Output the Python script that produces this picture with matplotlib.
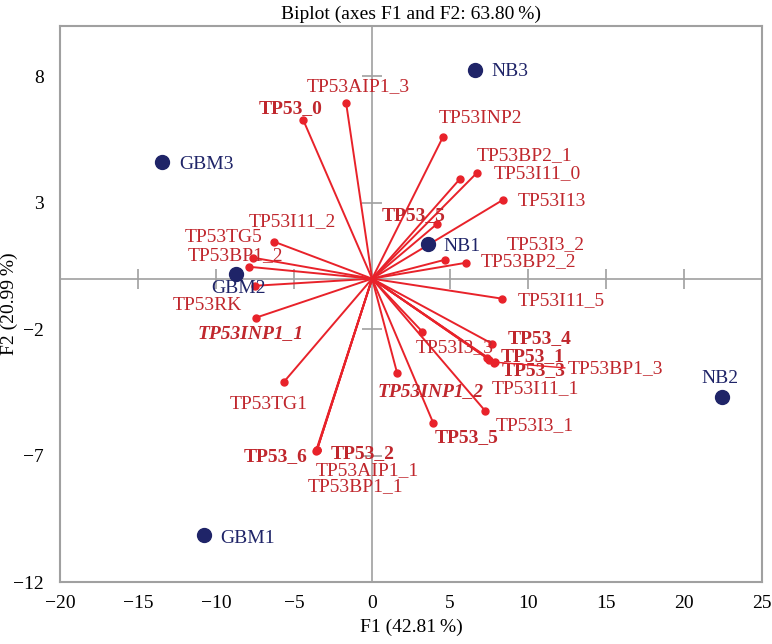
import matplotlib
matplotlib.use("Agg")
import matplotlib.pyplot as plt

# observations (F1, F2)
obs_names = ["NB3", "GBM3", "NB1", "GBM2", "NB2", "GBM1"]
obs_x = [6.6, -13.46, 3.59, -8.72, 22.44, -10.77]
obs_y = [8.26, 4.62, 1.38, 0.2, -4.66, -10.12]

# variables (loadings scaled)
var_names = [
    "TP53_0", "TP53AIP1_3", "TP53INP2", "TP53BP2_1", "TP53I11_0", "TP53I13",
    "TP53_5", "TP53I3_2", "TP53BP2_2", "TP53I11_5", "TP53I3_3", "TP53_4",
    "TP53_1", "TP53_3", "TP53BP1_3", "TP53I11_1", "TP53INP1_2", "TP53I3_1",
    "TP53_5 ", "TP53_6", "TP53_2", "TP53AIP1_1", "TP53BP1_1", "TP53TG1",
    "TP53INP1_1", "TP53RK", "TP53BP1_2", "TP53TG5", "TP53I11_2",
]
var_x = [
    -4.42, -1.67, 4.55, 5.64, 6.73, 8.40,
    4.17, 4.68, 6.03, 8.33, 3.21, 7.69,
    7.37, 7.82, 7.85, 7.50, 1.60, 7.24,
    3.91, -3.59, -3.53, -3.53, -3.53, -5.64,
    -7.44, -7.50, -7.88, -7.63, -6.28,
]
var_y = [
    6.28, 6.96, 5.61, 3.95, 4.19, 3.12,
    2.17, 0.75, 0.63, -0.79, -2.09, -2.57,
    -3.12, -3.32, -3.30, -3.20, -3.72, -5.22,
    -5.69, -6.80, -6.76, -6.76, -6.76, -4.07,
    -1.54, -0.28, 0.47, 0.83, 1.46,
]

bold = {"TP53_0", "TP53_5", "TP53_5 ", "TP53_4", "TP53_1", "TP53_3", "TP53_6", "TP53_2",
        "TP53INP1_1", "TP53INP1_2"}
italic = {"TP53INP1_1", "TP53INP1_2"}

# label offsets in pixels (dx, dy)
var_off = {
    "TP53_0": (-13, 11), "TP53AIP1_3": (12, 16), "TP53INP2": (37, 18),
    "TP53BP2_1": (64, 23), "TP53I11_0": (60, -1), "TP53I13": (49, -2),
    "TP53_5": (-24, 8), "TP53I3_2": (101, 15), "TP53BP2_2": (62, 1),
    "TP53I11_5": (59, -2), "TP53I3_3": (33, -16), "TP53_4": (48, 5),
    "TP53_1": (46, 1), "TP53_3": (40, -8), "TP53BP1_3": (121, -6),
    "TP53I11_1": (46, -29), "TP53INP1_2": (34, -19), "TP53I3_1": (50, -15),
    "TP53_5 ": (34, -15), "TP53_6": (-40, -6), "TP53_2": (46, -4),
    "TP53AIP1_1": (50, -21), "TP53BP1_1": (38, -37), "TP53TG1": (-15, -23),
    "TP53INP1_1": (-5, -16), "TP53RK": (-48, -20), "TP53BP1_2": (-14, 11),
    "TP53TG5": (-30, 20), "TP53I11_2": (18, 20),
}
obs_off = {
    "NB3": (35, -2), "GBM3": (44, -3), "NB1": (34, -3),
    "GBM2": (2, -15), "NB2": (-2, 18), "GBM1": (43, -4),
}

xticks = [-20, -15, -10, -5, 0, 5, 10, 15, 20, 25]
yticks = [-12, -7, -2, 3, 8]

plt.rcParams["font.family"] = ["Liberation Serif", "DejaVu Serif"]
plt.rcParams["font.size"] = 14

red_line = "#e8222a"
red_text = "#c0272d"
navy = "#1f2468"
grey = "#a0a0a0"

fig = plt.figure(figsize=(7.72, 6.44), dpi=100)
ax = fig.add_axes([0.078, 0.096, 0.909, 0.864])

ax.set_xlim(-20, 25)
ax.set_ylim(-12, 10)

# center lines with cross ticks
ax.axhline(0, color=grey, lw=1.2, zorder=1)
ax.axvline(0, color=grey, lw=1.2, zorder=1)
cx = [t for t in xticks if t not in (0, -20, 25)]
cy = [t for t in yticks if t not in (0, -12)]
ax.plot(cx, [0] * len(cx), ls="none", marker="|", ms=15, mew=1.2, color=grey, zorder=1)
ax.plot([0] * len(cy), cy, ls="none", marker="_", ms=15, mew=1.2, color=grey, zorder=1)

# variable vectors
for name, x, y in zip(var_names, var_x, var_y):
    ax.plot([0, x], [0, y], color=red_line, lw=1.4, zorder=2)
ax.plot(var_x, var_y, ls="none", marker="o", ms=5, color=red_line, zorder=3)

for name, x, y in zip(var_names, var_x, var_y):
    dx, dy = var_off[name]
    kw = {}
    if name == "TP53BP1_3":
        kw["arrowprops"] = dict(arrowstyle="-", color=red_line, lw=1.0,
                                shrinkA=0, shrinkB=0, relpos=(0, 0.5))
    ax.annotate(
        name.strip(), (x, y), xytext=(dx, dy), textcoords="offset pixels",
        ha="center", va="center", color=red_text,
        fontweight="bold" if name in bold else "normal",
        fontstyle="italic" if name in italic else "normal",
        zorder=4, **kw,
    )

# observations
ax.plot(obs_x, obs_y, ls="none", marker="o", ms=10, color=navy, zorder=5)
for name, x, y in zip(obs_names, obs_x, obs_y):
    dx, dy = obs_off[name]
    ax.annotate(name, (x, y), xytext=(dx, dy), textcoords="offset pixels",
                ha="center", va="center", color=navy, zorder=5)

ax.set_xticks(xticks)
ax.set_yticks(yticks)
ax.tick_params(axis="x", length=0, pad=9, labelsize=14)
ax.tick_params(axis="y", length=0, pad=12, labelsize=14)
for s in ax.spines.values():
    s.set_color(grey)
    s.set_linewidth(1.5)

ax.set_title("Biplot (axes F1 and F2: 63.80\u2009%)", fontsize=14, pad=5)
ax.set_xlabel("F1 (42.81\u2009%)", fontsize=14)
ax.set_ylabel("F2 (20.99\u2009%)", fontsize=14)
ax.xaxis.set_label_coords(0.5, -0.066)
ax.yaxis.set_label_coords(-0.06, 0.5)

fig.savefig("out.png", dpi=100)
